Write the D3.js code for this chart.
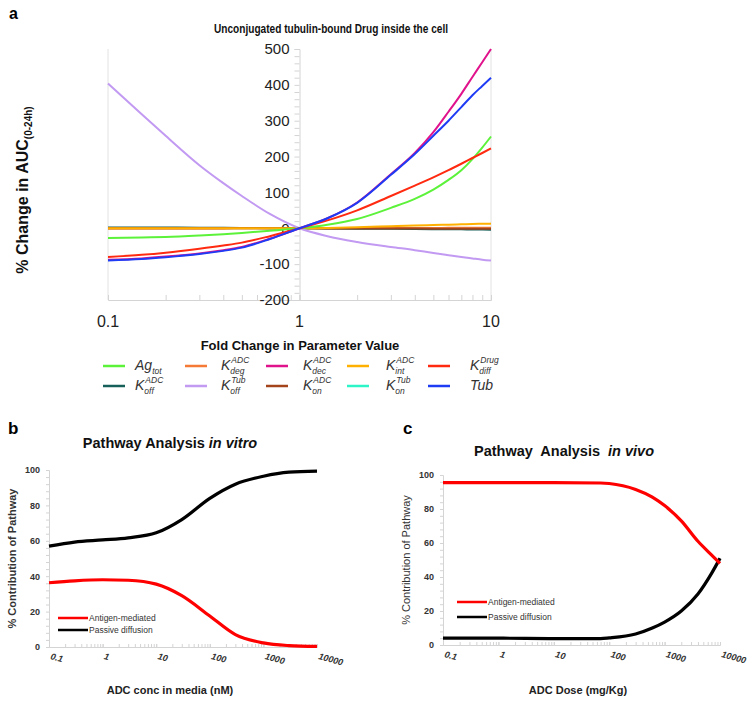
<!DOCTYPE html>
<html><head><meta charset="utf-8">
<script src="https://cdn.jsdelivr.net/npm/d3@7"></script>
<style>body{margin:0;background:#fff}text{font-family:"Liberation Sans",Arial,sans-serif}</style>
</head><body>
<svg id="c" width="754" height="703"></svg>
<script>
// ---------- Panel a data ----------
const foldA = [0.1, 0.15, 0.2, 0.3, 0.4, 0.5, 0.7, 1, 1.4, 2, 3, 4, 5, 6, 7, 8, 9, 10];
const agTot   = [-27, -25.5, -24, -20, -16.5, -13, -7, 0, 10, 26, 57, 82, 108, 135, 162, 193, 225, 256];
const kDegADC = [-1, -1, -1, -1, -1, -0.5, -0.3, 0, 0.3, 0.5, 0.8, 1, 1, 1.2, 1.3, 1.4, 1.5, 1.5];
const kDecADC = [-88, -84, -79, -70, -61, -52, -29, 0, 28, 72, 151, 210, 268, 325, 375, 422, 463, 500];
const kIntADC = [0, 0, 0, 0, 0, 0, 0, 0, 1, 3, 6, 8, 9, 10, 11, 12, 12.5, 13];
const kDiffDrug = [-80, -74, -68, -57, -48, -40, -22, 0, 22, 50, 90, 119, 142, 162, 180, 196, 210, 223];
const kOffADC = [2, 2, 2, 1.5, 1.2, 1, 0.5, 0, -0.5, -1, -1.5, -2, -2.5, -3, -3, -3.5, -3.5, -4];
const kOffTub = [404, 318, 258, 176, 126, 90, 40, 0, -22, -38, -52, -61, -69, -75, -80, -84, -87.5, -90];
const kOnADC  = [1, 1, 1, 1, 0.8, 0.6, 0.3, 0, -0.3, -0.5, -0.7, -0.8, -1, -1, -1, -1, -1, -1];
const kOnTub  = [0, 0, 0, 0, 0, 0, 0, 0, 0, 0, 0, 0, 0, 0, 0, 0, 0, 0];
const tub     = [-90, -86, -81, -72, -63, -54, -30, 0, 28, 71, 149, 207, 258, 300, 338, 371, 397, 420];
const yTicksA = [-200, -100, 0, 100, 200, 300, 400, 500];
const xTicksA = [0.1, 1, 10];

// ---------- Panel b data ----------
const concB = [0.1, 0.3, 1, 3, 10, 30, 100, 300, 1000, 3000, 10000];
const antigenB = [36.3, 37.4, 38, 37.7, 35.5, 29, 17.5, 7, 2.3, 0.8, 0.3];
const passiveB = [57, 59.3, 60.5, 61.7, 64.5, 72, 84, 92, 96.5, 98.8, 99.4];

// ---------- Panel c data ----------
const doseC = [0.1, 1, 10, 70, 100, 300, 600, 1000, 2000, 4000, 7000, 10000];
const antigenC = [95.5, 95.5, 95.5, 95.3, 95, 91.5, 87, 82, 73, 61, 53, 48];
const passiveC = [4, 4, 3.8, 3.8, 4.2, 6.5, 10, 13.5, 20, 30, 42, 51];

const xTicksBC = [0.1, 1, 10, 100, 1000, 10000];
const yTicksBC = [0, 20, 40, 60, 80, 100];

const svg = d3.select("#c");
const grid = "#d4d4d4";

// ================= Panel a =================
const xA = d3.scaleLog().domain([0.1, 10]).range([108, 491]);
const yA = d3.scaleLinear().domain([-200, 500]).range([300, 49]);

svg.append("text").attr("x", 9).attr("y", 19).attr("font-size", 16).attr("font-weight", "bold").text("a");
svg.append("text").attr("x", 331).attr("y", 33).attr("text-anchor", "middle")
  .attr("font-size", 12.5).attr("font-weight", "bold").attr("fill", "#111")
  .attr("textLength", 234).attr("lengthAdjust", "spacingAndGlyphs")
  .text("Unconjugated tubulin-bound Drug inside the cell");

// gridlines at 0.1 and 10
svg.append("g").selectAll("line").data([0.1, 10]).join("line")
  .attr("x1", d => xA(d)).attr("x2", d => xA(d)).attr("y1", yA(500)).attr("y2", yA(-200))
  .attr("stroke", "#e2e2e2").attr("stroke-width", 1);

// x axis (ticks up)
const xMinor = [];
[0.1, 1].forEach(b => { for (let k = 1; k <= 10; k++) xMinor.push(b * k); });
const gxA = svg.append("g").attr("transform", `translate(0,${yA(-200)})`)
  .call(d3.axisBottom(xA).tickValues(xMinor).tickSize(-5).tickFormat(""));
gxA.select(".domain").attr("stroke", grid);
gxA.selectAll(".tick line").attr("stroke", grid);
svg.append("g").selectAll("text").data(xTicksA).join("text")
  .attr("x", d => xA(d)).attr("y", 327).attr("text-anchor", "middle")
  .attr("font-size", 16).attr("fill", "#222").text(d => d3.format("~g")(d));

// y axis at x=1
const gyA = svg.append("g").attr("transform", `translate(${xA(1)},0)`)
  .call(d3.axisLeft(yA).tickValues(d3.range(-200, 501, 20)).tickSize(5).tickPadding(5)
    .tickFormat(d => yTicksA.includes(d) ? d : ""));
gyA.select(".domain").attr("stroke", grid);
gyA.selectAll(".tick line").attr("stroke", grid);
gyA.selectAll(".tick text").attr("font-size", 15).attr("fill", "#222")
  .attr("font-family", "'Liberation Sans', Arial, sans-serif");

// axis titles
svg.append("text").attr("x", 300).attr("y", 350).attr("text-anchor", "middle")
  .attr("font-size", 13).attr("font-weight", "bold").attr("fill", "#111")
  .text("Fold Change in Parameter Value");
const yTitleA = svg.append("text").attr("transform", "translate(28,190) rotate(-90)")
  .attr("text-anchor", "middle").attr("font-size", 16).attr("font-weight", "bold").attr("fill", "#111");
yTitleA.append("tspan").text("% Change in AUC");
yTitleA.append("tspan").attr("font-size", 10).attr("dy", 4).text("(0-24h)");

// series
const seriesA = [
  { vals: agTot, color: "#5cf23a", base: "Ag", sub: "tot" },
  { vals: kDegADC, color: "#f47a35", base: "K", sup: "ADC", sub: "deg" },
  { vals: kDecADC, color: "#e0138c", base: "K", sup: "ADC", sub: "dec" },
  { vals: kIntADC, color: "#ffb000", base: "K", sup: "ADC", sub: "int" },
  { vals: kDiffDrug, color: "#ff2a10", base: "K", sup: "Drug", sub: "diff" },
  { vals: kOffADC, color: "#17605a", base: "K", sup: "ADC", sub: "off" },
  { vals: kOffTub, color: "#c29af2", base: "K", sup: "Tub", sub: "off" },
  { vals: kOnADC, color: "#a3441c", base: "K", sup: "ADC", sub: "on" },
  { vals: kOnTub, color: "#2ef5c8", base: "K", sup: "Tub", sub: "on" },
  { vals: tub, color: "#1f3cf5", base: "Tub" }
];
const lineA = d3.line().x((d, i) => xA(foldA[i])).y(d => yA(d)).curve(d3.curveMonotoneX);
const drawOrder = [8, 5, 1, 7, 3, 6, 0, 4, 2, 9];
svg.append("g").selectAll("path").data(drawOrder.map(i => seriesA[i])).join("path")
  .attr("d", d => lineA(d.vals)).attr("fill", "none").attr("stroke", d => d.color).attr("stroke-width", 2);

// legend
const swX = [103, 185, 266, 347, 428];
const lbX = [135, 221, 303, 386, 470];
const rowY = [366, 386];
const lg = svg.append("g");
const tf = "'Liberation Serif','DejaVu Serif',serif";
seriesA.forEach((s, i) => {
  const c = i % 5, r = Math.floor(i / 5);
  const y = rowY[r];
  lg.append("line").attr("x1", swX[c]).attr("x2", swX[c] + 22).attr("y1", y).attr("y2", y)
    .attr("stroke", s.color).attr("stroke-width", 2.5);
  const bt = lg.append("text").attr("x", lbX[c]).attr("y", y + 4).attr("font-size", 14)
    .attr("font-style", "italic").attr("font-family", tf).attr("fill", "#333").text(s.base);
  const w = bt.node().getComputedTextLength();
  if (s.sup) lg.append("text").attr("x", lbX[c] + w + 1).attr("y", y - 3).attr("font-size", 8.5)
    .attr("font-style", "italic").attr("font-family", tf).attr("fill", "#333").text(s.sup);
  if (s.sub) lg.append("text").attr("x", lbX[c] + w).attr("y", y + 8).attr("font-size", 8.5)
    .attr("font-style", "italic").attr("font-family", tf).attr("fill", "#333").text(s.sub);
});

// ================= Panels b & c =================
function pathwayPanel(cfg) {
  const x = d3.scaleLog().domain([0.1, 10000]).range([cfg.x0, cfg.x1]);
  const y = d3.scaleLinear().domain([0, 100]).range([cfg.y0, cfg.y1]);
  svg.append("text").attr("x", cfg.lx).attr("y", 434).attr("font-size", 17).attr("font-weight", "bold").text(cfg.letter);
  const t = svg.append("text").attr("x", cfg.tx).attr("y", cfg.ty).attr("text-anchor", "middle")
    .attr("font-size", 14.5).attr("font-weight", "bold").attr("fill", "#111").attr("xml:space", "preserve");
  t.append("tspan").text(cfg.title);
  t.append("tspan").attr("font-style", "italic").text(cfg.titleIt);

  const minor = [];
  [0.1, 1, 10, 100, 1000].forEach(b => { for (let k = 1; k <= 10; k++) minor.push(b * k); });
  const gx = svg.append("g").attr("transform", `translate(0,${cfg.y0})`)
    .call(d3.axisBottom(x).tickValues(minor).tickSize(-3).tickFormat(""));
  gx.select(".domain").attr("stroke", grid);
  gx.selectAll(".tick line").attr("stroke", grid);
  svg.append("g").selectAll("text").data(xTicksBC).join("text")
    .attr("transform", d => `translate(${x(d) + 1},${cfg.y0 + 12}) rotate(15)`)
    .attr("font-size", 9).attr("font-weight", "bold").attr("font-style", "italic").attr("fill", "#333")
    .text(d => d3.format("~g")(d));

  const gy = svg.append("g").attr("transform", `translate(${cfg.x0},0)`)
    .call(d3.axisLeft(y).tickValues(d3.range(0, 101, 4)).tickSize(3).tickPadding(6)
      .tickFormat(d => yTicksBC.includes(d) ? d : ""));
  gy.select(".domain").attr("stroke", grid);
  gy.selectAll(".tick line").attr("stroke", grid);
  gy.selectAll(".tick text").attr("font-size", 9).attr("font-weight", "bold").attr("fill", "#333")
    .attr("font-family", "'Liberation Sans', Arial, sans-serif");

  svg.append("text").attr("x", cfg.xtx).attr("y", 694).attr("text-anchor", "middle")
    .attr("font-size", 11).attr("font-weight", "bold").attr("fill", "#222").text(cfg.xTitle);
  svg.append("text").attr("transform", `translate(${cfg.ytx},${(cfg.y0 + cfg.y1) / 2}) rotate(-90)`)
    .attr("text-anchor", "middle").attr("font-size", 11).attr("font-weight", cfg.ytBold ? "bold" : "normal")
    .attr("fill", "#333").text("% Contribution of Pathway");

  const line = d3.line().x((d, i) => x(cfg.xs[i])).y(d => y(d)).curve(d3.curveMonotoneX);
  svg.append("path").attr("d", line(cfg.passive)).attr("fill", "none").attr("stroke", "#000").attr("stroke-width", 3.2);
  svg.append("path").attr("d", line(cfg.antigen)).attr("fill", "none").attr("stroke", "#ff0000").attr("stroke-width", 3.2);

  [["Antigen-mediated", "#ff0000", cfg.lgY], ["Passive diffusion", "#000", cfg.lgY + cfg.lgGap]].forEach(([lab, col, ly]) => {
    svg.append("line").attr("x1", cfg.lgX).attr("x2", cfg.lgX + 30).attr("y1", ly).attr("y2", ly)
      .attr("stroke", col).attr("stroke-width", 2.5);
    svg.append("text").attr("x", cfg.lgX + 31).attr("y", ly + 3).attr("font-size", 8.5).attr("fill", "#333").text(lab);
  });
}

pathwayPanel({ letter: "b", lx: 8, x0: 49, x1: 317, y0: 647, y1: 470, tx: 170, ty: 448,
  title: "Pathway Analysis ", titleIt: "in vitro", xTitle: "ADC conc in media (nM)", xtx: 170, ytx: 16, ytBold: true,
  xs: concB, antigen: antigenB, passive: passiveB, lgX: 58, lgY: 618, lgGap: 12 });
pathwayPanel({ letter: "c", lx: 403, x0: 443, x1: 720, y0: 645, y1: 475, tx: 564, ty: 456,
  title: "Pathway  Analysis  ", titleIt: "in vivo", xTitle: "ADC Dose (mg/Kg)", xtx: 578, ytx: 410, ytBold: false,
  xs: doseC, antigen: antigenC, passive: passiveC, lgX: 457, lgY: 602, lgGap: 15 });
</script>
</body></html>
